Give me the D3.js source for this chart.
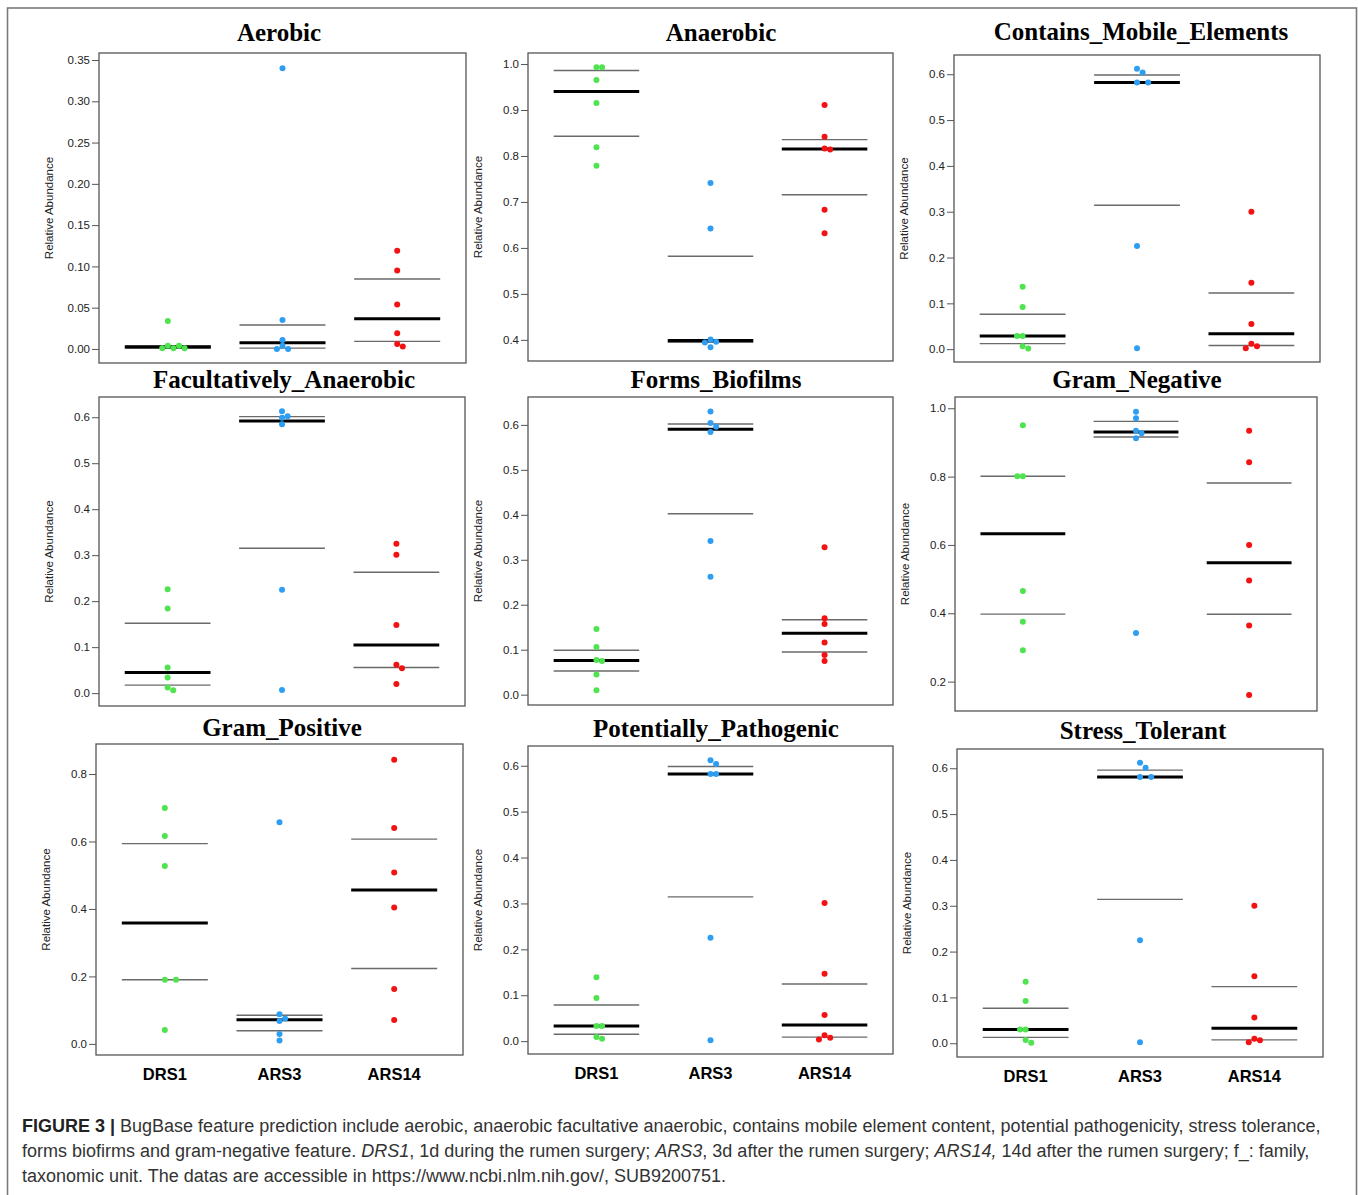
<!DOCTYPE html>
<html>
<head>
<meta charset="utf-8">
<script src="https://cdn.jsdelivr.net/npm/d3@7"></script>
<style>
  body { margin: 0; background: #fff; }
  svg { display: block; }
</style>
</head>
<body>
<div id="chart"></div>
<script>
const groups = ['DRS1', 'ARS3', 'ARS14'];
const titles = ['Aerobic', 'Anaerobic', 'Contains_Mobile_Elements',
    'Facultatively_Anaerobic', 'Forms_Biofilms', 'Gram_Negative',
    'Gram_Positive', 'Potentially_Pathogenic', 'Stress_Tolerant'];

// relative abundance of each sample, one row per group (DRS1, ARS3, ARS14)
const aerobic = [
    [0.034, 0.004, 0.004, 0.001, 0.001, 0.001],
    [0.340, 0.035, 0.011, 0.004, 0.000, 0.000],
    [0.119, 0.095, 0.054, 0.019, 0.006, 0.003]];
const anaerobic = [
    [0.993, 0.993, 0.965, 0.915, 0.819, 0.779],
    [0.741, 0.642, 0.401, 0.396, 0.394, 0.384],
    [0.911, 0.842, 0.816, 0.814, 0.683, 0.632]];
const mobileElements = [
    [0.136, 0.092, 0.029, 0.029, 0.0065, 0.0013],
    [0.612, 0.604, 0.582, 0.582, 0.225, 0.002],
    [0.300, 0.145, 0.055, 0.012, 0.0065, 0.002]];
const facultative = [
    [0.226, 0.184, 0.056, 0.034, 0.012, 0.0065],
    [0.613, 0.602, 0.599, 0.585, 0.225, 0.007],
    [0.325, 0.301, 0.148, 0.0615, 0.054, 0.020]];
const biofilms = [
    [0.146, 0.106, 0.077, 0.075, 0.045, 0.010],
    [0.630, 0.604, 0.596, 0.584, 0.342, 0.262],
    [0.328, 0.170, 0.157, 0.116, 0.088, 0.075]];
const gramNegative = [
    [0.950, 0.801, 0.801, 0.465, 0.375, 0.292],
    [0.990, 0.971, 0.934, 0.927, 0.912, 0.342],
    [0.934, 0.842, 0.600, 0.496, 0.364, 0.161]];
const gramPositive = [
    [0.699, 0.616, 0.527, 0.190, 0.190, 0.041],
    [0.657, 0.088, 0.075, 0.068, 0.029, 0.010],
    [0.842, 0.640, 0.508, 0.404, 0.163, 0.071]];
const pathogenic = [
    [0.139, 0.094, 0.033, 0.033, 0.009, 0.005],
    [0.612, 0.604, 0.582, 0.582, 0.225, 0.002],
    [0.301, 0.147, 0.057, 0.013, 0.0073, 0.0036]];
const stressTolerant = [
    [0.134, 0.092, 0.030, 0.030, 0.007, 0.001],
    [0.612, 0.601, 0.581, 0.581, 0.225, 0.002],
    [0.300, 0.146, 0.056, 0.010, 0.0065, 0.002]];

// y tick values and axis limits of each panel
const aerobicTicks = [0, 0.05, 0.10, 0.15, 0.20, 0.25, 0.30, 0.35];
const anaerobicTicks = [0.4, 0.5, 0.6, 0.7, 0.8, 0.9, 1.0];
const tenthTicks = [0, 0.1, 0.2, 0.3, 0.4, 0.5, 0.6];
const gramNegTicks = [0.2, 0.4, 0.6, 0.8, 1.0];
const gramPosTicks = [0, 0.2, 0.4, 0.6, 0.8];
const yLimits = [[-0.017, 0.3585], [0.354, 1.024], [-0.028, 0.642],
    [-0.028, 0.644], [-0.023, 0.662], [0.114, 1.033],
    [-0.033, 0.889], [-0.028, 0.643], [-0.030, 0.642]];

const values = [aerobic, anaerobic, mobileElements, facultative, biofilms,
    gramNegative, gramPositive, pathogenic, stressTolerant];
const ticks = [aerobicTicks, anaerobicTicks, tenthTicks, tenthTicks, tenthTicks,
    gramNegTicks, gramPosTicks, tenthTicks, tenthTicks];

// plot boxes and title placement
const layout = [
    {x0: 99, x1: 466, y0: 53, y1: 363, tx: 279, ty: 41},
    {x0: 528, x1: 893, y0: 53, y1: 361, tx: 721, ty: 41},
    {x0: 954, x1: 1320, y0: 55, y1: 362, tx: 1141, ty: 40},
    {x0: 99, x1: 465, y0: 397, y1: 706, tx: 284, ty: 388},
    {x0: 528, x1: 893, y0: 397, y1: 705, tx: 716, ty: 388},
    {x0: 955, x1: 1317, y0: 397, y1: 711, tx: 1137, ty: 388},
    {x0: 96, x1: 463, y0: 744, y1: 1055, tx: 282, ty: 736},
    {x0: 528, x1: 893, y0: 746, y1: 1054, tx: 716, ty: 737},
    {x0: 957, x1: 1323, y0: 749, y1: 1057, tx: 1143, ty: 739}
];
const colors = ['#4fe34f', '#2e9ef2', '#f21212'];
const dotR = 3, step = 5.6;

const svg = d3.select('#chart').append('svg')
    .attr('width', 1358).attr('height', 1195);

svg.append('rect')
    .attr('x', 7.5).attr('y', 8).attr('width', 1349).attr('height', 1200)
    .style('fill', 'none').style('stroke', '#7a7a7a').style('stroke-width', 1.6);

// place tied points side by side, like a small beeswarm
function swarm(vals, y, cx) {
    var placed = [];
    var order = vals.map((v, i) => i).sort((a, b) => vals[b] - vals[a]);
    order.forEach(i => {
        var py = y(vals[i]);
        for (var k = 0; k < 20; k++) {
            var off = k === 0 ? 0 : (k % 2 ? 1 : -1) * Math.ceil(k / 2) * step;
            var ok = placed.every(p => Math.hypot(p.x - (cx + off), p.y - py) >= step);
            if (ok) { placed.push({x: cx + off, y: py}); break; }
        }
    });
    return placed;
}

titles.forEach((title, pi) => {
    var box = layout[pi];
    var g = svg.append('g');
    var x = d3.scaleLinear().domain([0.4, 3.6]).range([box.x0, box.x1]);
    var y = d3.scaleLinear().domain(yLimits[pi]).range([box.y1, box.y0]);
    var fmt = pi === 0 ? d3.format('.2f') : d3.format('.1f');

    g.append('text')
        .attr('x', box.tx).attr('y', box.ty)
        .style('text-anchor', 'middle')
        .style('font-family', '"Liberation Serif", "Times New Roman", serif')
        .style('font-weight', 'bold')
        .style('font-size', '25px')
        .text(title);

    var axis = g.append('g')
        .attr('transform', `translate(${box.x0},0)`)
        .call(d3.axisLeft(y).tickValues(ticks[pi]).tickFormat(fmt).tickSize(7).tickPadding(2));
    axis.select('.domain').remove();
    axis.selectAll('line').style('stroke', '#555');
    axis.selectAll('text')
        .style('font-family', '"Liberation Sans", Arial, sans-serif')
        .style('font-size', '11.5px')
        .style('fill', '#222');

    g.append('text')
        .attr('transform', `translate(${box.x0 - 46},${(box.y0 + box.y1) / 2}) rotate(-90)`)
        .style('text-anchor', 'middle')
        .style('font-family', '"Liberation Sans", Arial, sans-serif')
        .style('font-size', '11.5px')
        .style('fill', '#222')
        .text('Relative Abundance');

    values[pi].forEach((vals, gi) => {
        var cx = x(gi + 1);
        var half = x(1.375) - x(1);
        var q1 = d3.quantile(vals, 0.25), q3 = d3.quantile(vals, 0.75), med = d3.median(vals);
        [q1, q3].forEach(q => {
            g.append('line')
                .attr('x1', cx - half).attr('x2', cx + half)
                .attr('y1', y(q)).attr('y2', y(q))
                .style('stroke', '#6a6a6a').style('stroke-width', 1.4);
        });
        g.append('line')
            .attr('x1', cx - half).attr('x2', cx + half)
            .attr('y1', y(med)).attr('y2', y(med))
            .style('stroke', '#000').style('stroke-width', 3);

        g.append('g').selectAll('circle')
            .data(swarm(vals, y, cx))
            .join('circle')
            .attr('cx', d => d.x).attr('cy', d => d.y).attr('r', dotR)
            .style('fill', colors[gi]);

        if (pi >= 6) {
            g.append('text')
                .attr('x', cx).attr('y', box.y1 + 25)
                .style('text-anchor', 'middle')
                .style('font-family', '"Liberation Sans", Arial, sans-serif')
                .style('font-weight', 'bold')
                .style('font-size', '16.5px')
                .text(groups[gi]);
        }
    });

    g.append('rect')
        .attr('x', box.x0).attr('y', box.y0)
        .attr('width', box.x1 - box.x0).attr('height', box.y1 - box.y0)
        .style('fill', 'none').style('stroke', '#555').style('stroke-width', 1.3);
});

// caption
const captionLines = [
    [['FIGURE 3 |', 'b'], [' BugBase feature prediction include aerobic, anaerobic facultative anaerobic, contains mobile element content, potential pathogenicity, stress tolerance,', '']],
    [['forms biofirms and gram-negative feature. ', ''], ['DRS1', 'i'], [', 1d during the rumen surgery; ', ''], ['ARS3', 'i'], [', 3d after the rumen surgery; ', ''], ['ARS14,', 'i'], [' 14d after the rumen surgery; f_: family,', '']],
    [['taxonomic unit. The datas are accessible in https://www.ncbi.nlm.nih.gov/, SUB9200751.', '']]
];
var cap = svg.append('text')
    .style('font-family', '"Liberation Sans", Arial, sans-serif')
    .style('font-size', '18px')
    .style('fill', '#333');
captionLines.forEach((line, li) => {
    line.forEach((part, k) => {
        var t = cap.append('tspan').text(part[0]);
        if (k === 0) t.attr('x', 22).attr('y', 1132 + li * 25);
        if (part[1] === 'b') t.style('font-weight', 'bold').style('fill', '#222');
        if (part[1] === 'i') t.style('font-style', 'italic');
    });
});
</script>
</body>
</html>
